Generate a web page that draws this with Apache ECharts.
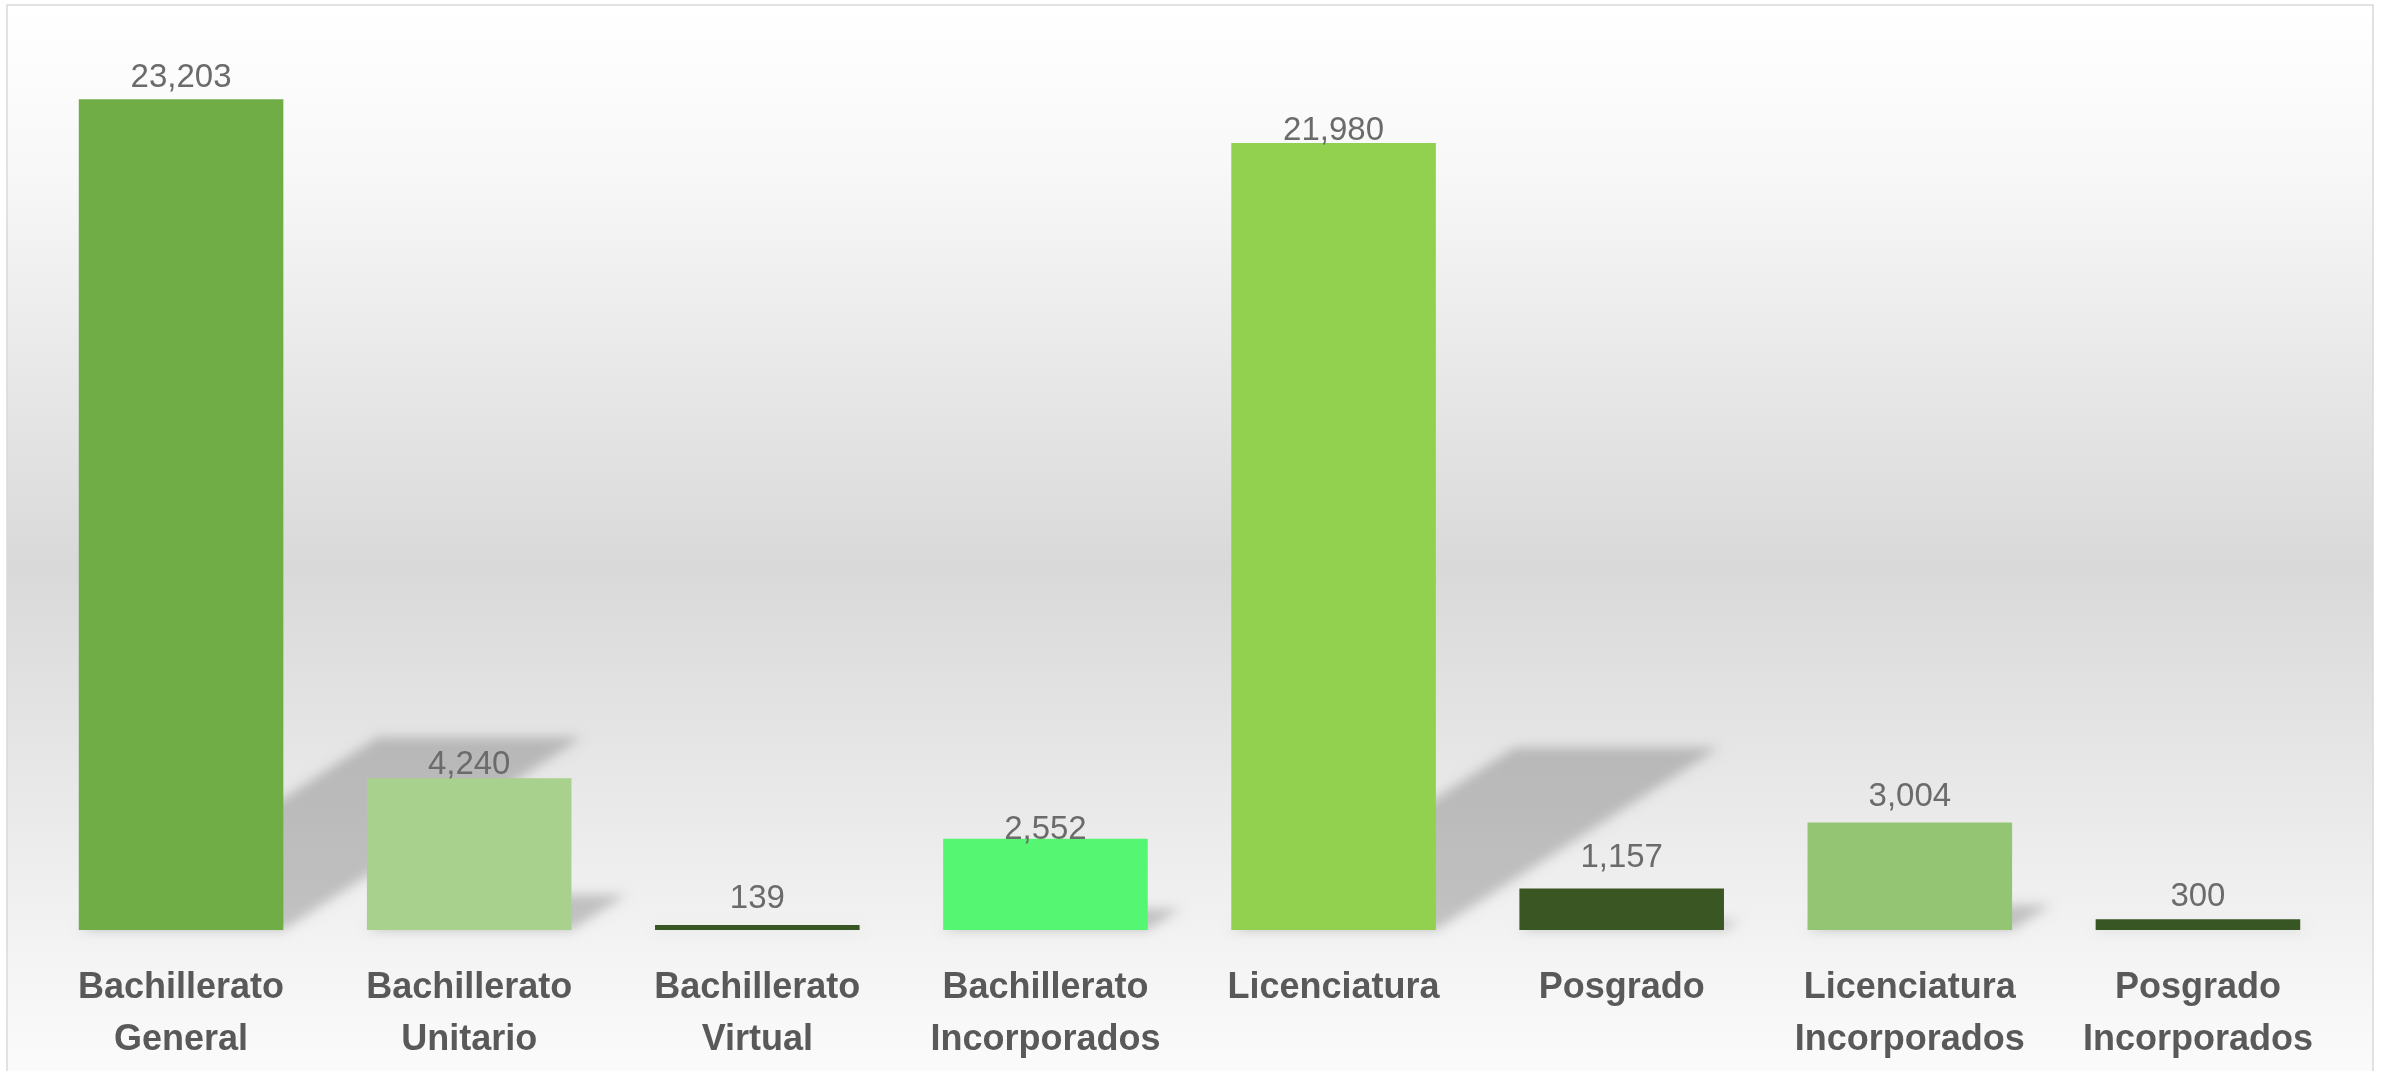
<!DOCTYPE html>
<html>
<head>
<meta charset="utf-8">
<script src="https://cdn.jsdelivr.net/npm/echarts@6/dist/echarts.min.js"></script>
<style>
  html, body { margin: 0; padding: 0; background: #ffffff; }
  #chart { width: 2382px; height: 1071px; }
</style>
</head>
<body>
<div id="chart"></div>
<script>
// datos
var categorias = [
  'Bachillerato\nGeneral', 'Bachillerato\nUnitario', 'Bachillerato\nVirtual',
  'Bachillerato\nIncorporados', 'Licenciatura', 'Posgrado',
  'Licenciatura\nIncorporados', 'Posgrado\nIncorporados'
];
var valores = [23203, 4240, 139, 2552, 21980, 1157, 3004, 300];
var colores = ['#70AD47', '#A9D18E', '#375623', '#55F772', '#92D050', '#3A5723', '#93C572', '#375623'];
// distancia de cada etiqueta a su barra (como en el original)
var distEtiqueta = [5, -3, 10, -8, -4, 14, 9, 6];

var anchoBarra = 0.71;
var desplazar = 4000; // la figura se dibuja fuera y solo se ve su sombra difusa

var chart = echarts.init(document.getElementById('chart'));

// sombra en perspectiva detras de cada barra
function sombra(params, api) {
  var i = api.value(0);
  var v = api.value(1);
  var base = api.coord([i, 0]);
  var top = api.coord([i, v]);
  var w = api.size([1, 0])[0] * anchoBarra;
  var h = base[1] - top[1];
  var dy = h * 0.232, dx = h * 0.36;
  var x0 = base[0] - w / 2 - desplazar, x1 = base[0] + w / 2 - desplazar;
  return {
    type: 'polygon',
    shape: { points: [[x0, base[1]], [x1, base[1]], [x1 + dx, base[1] - dy], [x0 + dx, base[1] - dy]] },
    style: {
      fill: '#000',
      shadowBlur: 12,
      shadowColor: 'rgba(0,0,0,0.2)',
      shadowOffsetX: desplazar
    }
  };
}

var option = {
  animation: false,
  graphic: [{
    type: 'rect',
    z: -10,
    shape: { x: 7, y: 5, width: 2366, height: 1080 },
    style: {
      fill: new echarts.graphic.LinearGradient(0, 0, 0, 1, [
        { offset: 0, color: '#ffffff' },
        { offset: 0.15, color: '#f8f8f8' },
        { offset: 0.52, color: '#d9d9d9' },
        { offset: 0.87, color: '#f3f3f3' },
        { offset: 1, color: '#fcfcfc' }
      ]),
      stroke: '#d9d9d9',
      lineWidth: 1.5
    }
  }],
  grid: { left: 37, right: 40, top: 35, bottom: 141 },
  xAxis: {
    type: 'category',
    data: categorias,
    axisLine: { show: false },
    axisTick: { show: false },
    axisLabel: {
      interval: 0,
      margin: 32,
      color: '#595959',
      fontFamily: 'Liberation Sans',
      fontWeight: 'bold',
      fontSize: 36,
      lineHeight: 52
    }
  },
  yAxis: {
    type: 'value',
    min: 0,
    max: 25000,
    show: false,
    splitLine: { show: false }
  },
  series: [
    {
      type: 'custom',
      z: 1,
      clip: false,
      renderItem: sombra,
      data: valores.map(function (v, i) { return [i, v]; })
    },
    {
      type: 'bar',
      z: 2,
      barCategoryGap: '29%',
      data: valores.map(function (v, i) {
        return {
          value: v,
          itemStyle: { color: colores[i] },
          label: { distance: distEtiqueta[i] }
        };
      }),
      label: {
        show: true,
        position: 'top',
        color: '#6b6b6b',
        fontFamily: 'Liberation Sans',
        fontSize: 33,
        lineHeight: 33,
        formatter: function (p) { return p.value.toLocaleString('en-US'); }
      }
    }
  ]
};

chart.setOption(option);
</script>
</body>
</html>
